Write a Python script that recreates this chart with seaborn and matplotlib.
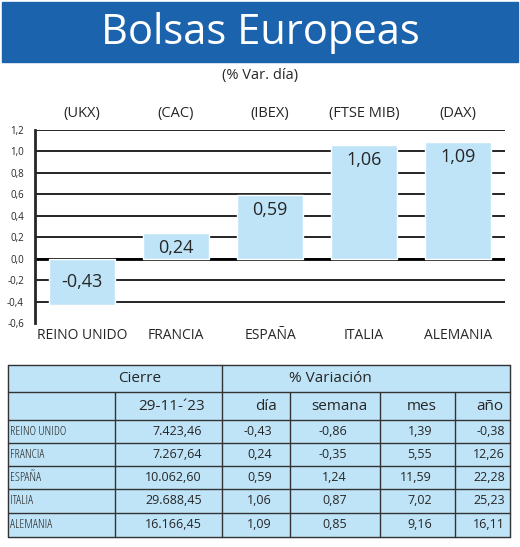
import matplotlib.pyplot as plt
import seaborn as sns
import pandas as pd

paises = ["REINO UNIDO", "FRANCIA", "ESPAÑA", "ITALIA", "ALEMANIA"]
indices = ["(UKX)", "(CAC)", "(IBEX)", "(FTSE MIB)", "(DAX)"]
var_dia = [-0.43, 0.24, 0.59, 1.06, 1.09]
cierre = ["7.423,46", "7.267,64", "10.062,60", "29.688,45", "16.166,45"]
dia = ["-0,43", "0,24", "0,59", "1,06", "1,09"]
semana = ["-0,86", "-0,35", "1,24", "0,87", "0,85"]
mes = ["1,39", "5,55", "11,59", "7,02", "9,16"]
anio = ["-0,38", "12,26", "22,28", "25,23", "16,11"]

sns.set_style("white")
plt.rcParams['font.family'] = ['Open Sans', 'DejaVu Sans']
W, H = 520, 547
fig = plt.figure(figsize=(5.2, 5.47), dpi=100)
blue = "#1c63ad"
light = "#bfe4f7"

# banner
fig.patches.append(plt.Rectangle((2 / W, 1 - 62 / H), 516 / W, 60 / H, transform=fig.transFigure,
                                 color=blue, zorder=0))
fig.text(0.5, 1 - 33 / H, "Bolsas Europeas", color="white", fontsize=30, ha="center", va="center")
fig.text(0.5, 1 - 76 / H, "(% Var. día)", fontsize=10.5, ha="center", va="center")

# bar chart
ax = fig.add_axes([35 / W, 1 - 323 / H, 470 / W, 193 / H])
df = pd.DataFrame({"pais": paises, "valor": var_dia})
sns.barplot(data=df, x="pais", y="valor", color=light, saturation=1, width=0.7, ax=ax, zorder=2)
ax.set_ylim(-0.6, 1.2)
ticks = [-0.6, -0.4, -0.2, 0.0, 0.2, 0.4, 0.6, 0.8, 1.0, 1.2]
ax.set_yticks(ticks)
ax.set_yticklabels([f"{t:.1f}".replace(".", ",") for t in ticks], fontsize=7)
for t in ticks[1:]:
    ax.axhline(t, color="black", lw=1.2, zorder=1)
ax.axhline(0, color="black", lw=2, zorder=1)
for s in ["top", "right", "bottom"]:
    ax.spines[s].set_visible(False)
ax.spines["left"].set_linewidth(2)
ax.set_xlabel("")
ax.set_ylabel("")
ax.tick_params(axis="x", length=0, labelsize=10)
ax.tick_params(axis="y", length=0, pad=8)
for i, v in enumerate(var_dia):
    ax.text(i, v / 2 if v < 0 else v - 0.14, f"{v:.2f}".replace(".", ","), ha="center", va="center",
            fontsize=13, zorder=3)
    ax.text(i, 1.35, indices[i], ha="center", va="center", fontsize=10.5, clip_on=False)

# table
tx = fig.add_axes([0, 0, 1, 1])
tx.set_xlim(0, W)
tx.set_ylim(H, 0)
tx.axis("off")
tx.add_patch(plt.Rectangle((8, 365), 502, 172, color=light, zorder=0))
cols = [8, 115, 222, 290, 380, 455, 510]
rows = [365, 392, 420, 443, 466, 489, 513, 537]
for y in rows:
    tx.plot([8, 510], [y, y], color="#333333", lw=1)
tx.plot([8, 8], [365, 537], color="#333333", lw=1)
tx.plot([510, 510], [365, 537], color="#333333", lw=1)
tx.plot([222, 222], [365, 537], color="#333333", lw=1)
for x in [115, 290, 380, 455]:
    tx.plot([x, x], [392, 537], color="#333333", lw=1)
tx.text(140, 379, "Cierre", fontsize=11, ha="center", va="center")
tx.text(330, 379, "% Variación", fontsize=11, ha="center", va="center")
for x, lab in zip([205, 277, 367, 437, 503], ["29-11-´23", "día", "semana", "mes", "año"]):
    tx.text(x, 407, lab, fontsize=11, ha="right", va="center")
for r in range(5):
    y = (rows[r + 2] + rows[r + 3]) / 2
    tx.text(10, y, paises[r], fontsize=9, ha="left", va="center", stretch="condensed")
    for x, vals in zip([202, 272, 347, 432, 505], [cierre, dia, semana, mes, anio]):
        tx.text(x, y, vals[r], fontsize=9, ha="right", va="center")

fig.savefig("out.png", dpi=100)
